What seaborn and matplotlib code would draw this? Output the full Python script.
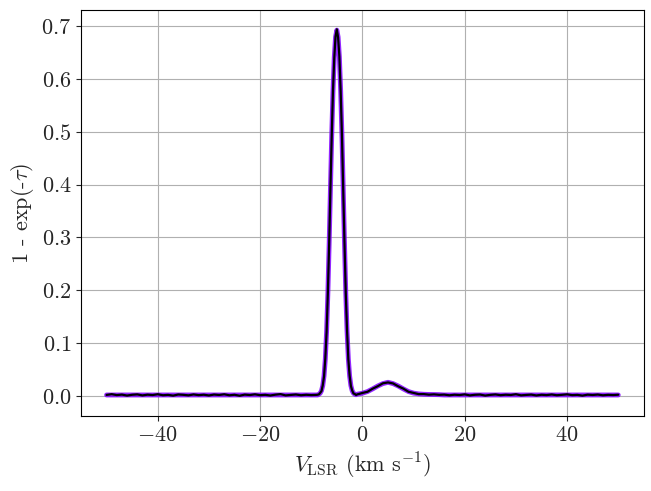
import matplotlib
matplotlib.use("Agg")
import matplotlib.pyplot as plt
import seaborn as sns
import pandas as pd

# velocity grid (km/s)
velocity = [
    -50, -49, -48, -47, -46, -45, -44, -43, -42, -41,
    -40, -39, -38, -37, -36, -35, -34, -33, -32, -31,
    -30, -29, -28, -27, -26, -25, -24, -23, -22, -21,
    -20, -19, -18, -17, -16, -15, -14, -13, -12, -11,
    -10, -9,
    -8.75, -8.5, -8.25, -8.0, -7.75, -7.5, -7.25, -7.0, -6.75, -6.5,
    -6.25, -6.0, -5.75, -5.5, -5.25, -5.0, -4.75, -4.5, -4.25, -4.0,
    -3.75, -3.5, -3.25, -3.0, -2.75, -2.5, -2.25, -2.0, -1.75, -1.5,
    -1.25,
    -1, 0, 1, 2, 3, 4, 5, 6, 7, 8,
    9, 10, 11, 12, 13, 14, 15, 16, 17, 18,
    19, 20, 21, 22, 23, 24, 25, 26, 27, 28,
    29, 30, 31, 32, 33, 34, 35, 36, 37, 38,
    39, 40, 41, 42, 43, 44, 45, 46, 47, 48,
    49, 50,
]

# model prediction (purple)
model = [
    0.002, 0.002, 0.002, 0.002, 0.002, 0.002, 0.002, 0.002, 0.002, 0.002,
    0.002, 0.002, 0.002, 0.002, 0.002, 0.002, 0.002, 0.002, 0.002, 0.002,
    0.002, 0.002, 0.002, 0.002, 0.002, 0.002, 0.002, 0.002, 0.002, 0.002,
    0.002, 0.002, 0.002, 0.002, 0.002, 0.002, 0.002, 0.002, 0.002, 0.002,
    0.002, 0.002,
    0.002, 0.0033, 0.0054, 0.010, 0.0196, 0.038, 0.070, 0.122, 0.195, 0.288,
    0.391, 0.492, 0.577, 0.641, 0.679, 0.692, 0.679, 0.641, 0.577, 0.492,
    0.391, 0.288, 0.195, 0.122, 0.070, 0.038, 0.0196, 0.010, 0.0054, 0.0035,
    0.0025,
    0.0035, 0.0053, 0.0085, 0.0135, 0.019, 0.0235, 0.026, 0.0235, 0.019, 0.0135,
    0.0085, 0.0055, 0.004, 0.0033, 0.003, 0.0028, 0.0026, 0.002, 0.002, 0.002,
    0.002, 0.002, 0.002, 0.002, 0.002, 0.002, 0.002, 0.002, 0.002, 0.002,
    0.002, 0.002, 0.002, 0.002, 0.002, 0.002, 0.002, 0.002, 0.002, 0.002,
    0.002, 0.002, 0.002, 0.002, 0.002, 0.002, 0.002, 0.002, 0.002, 0.002,
    0.002, 0.002,
]

# observed spectrum (black)
observed = [
    0.0021, 0.0035, 0.0018, 0.0027, 0.0009, 0.0024, 0.0031, 0.0012, 0.0026, 0.0019,
    0.0034, 0.0015, 0.0022, 0.0008, 0.0029, 0.0023, 0.0013, 0.0030, 0.0017, 0.0025,
    0.0011, 0.0028, 0.0020, 0.0033, 0.0014, 0.0024, 0.0006, 0.0027, 0.0019, 0.0032,
    0.0016, 0.0023, 0.0010, 0.0026, 0.0036, 0.0012, 0.0021, 0.0029, 0.0015, 0.0024,
    0.0018, 0.0022,
    0.0025, 0.0031, 0.0060, 0.0094, 0.0203, 0.0372, 0.0712, 0.1208, 0.1961, 0.2872,
    0.3925, 0.4908, 0.5782, 0.6398, 0.6803, 0.6935, 0.6779, 0.6422, 0.5758, 0.4931,
    0.3898, 0.2891, 0.1939, 0.1232, 0.0691, 0.0387, 0.0189, 0.0106, 0.0049, 0.0039,
    0.0021,
    0.0031, 0.0058, 0.0081, 0.0139, 0.0186, 0.0241, 0.0257, 0.0238, 0.0184, 0.0140,
    0.0081, 0.0059, 0.0036, 0.0037, 0.0026, 0.0032, 0.0023, 0.0027, 0.0014, 0.0025,
    0.0019, 0.0031, 0.0012, 0.0024, 0.0028, 0.0009, 0.0022, 0.0030, 0.0016, 0.0025,
    0.0020, 0.0034, 0.0013, 0.0021, 0.0027, 0.0011, 0.0024, 0.0018, 0.0029, 0.0015,
    0.0023, 0.0032, 0.0017, 0.0022, 0.0008, 0.0026, 0.0020, 0.0028, 0.0014, 0.0023,
    0.0019, 0.0025,
]

sns.set_theme(style="ticks", rc={
    "axes.grid": True,
    "grid.color": "#b0b0b0",
    "grid.linewidth": 0.8,
    "axes.edgecolor": "black",
    "axes.linewidth": 0.8,
    "xtick.major.size": 3.5,
    "ytick.major.size": 3.5,
    "xtick.major.width": 0.8,
    "ytick.major.width": 0.8,
})
plt.rcParams["font.family"] = "serif"
plt.rcParams["font.serif"] = ["cmr10", "DejaVu Serif"]
plt.rcParams["mathtext.fontset"] = "cm"
plt.rcParams["axes.formatter.use_mathtext"] = True

df = pd.DataFrame({"velocity": velocity, "model": model, "observed": observed})

fig, ax = plt.subplots(figsize=(6.51, 4.91), dpi=100)
sns.lineplot(data=df, x="velocity", y="model", ax=ax, color="#8000ff",
             linewidth=3.5, alpha=0.85)
sns.lineplot(data=df, x="velocity", y="observed", ax=ax, color="black",
             linewidth=1.6)

ax.set_xlabel(r"$V_{\rm LSR}$ (km s$^{-1}$)", fontsize=16)
ax.set_ylabel(r"1 - exp(-$\tau$)", fontsize=16)
ax.tick_params(labelsize=16)
ax.set_xticks([-40, -20, 0, 20, 40])
ax.set_xlim(-55, 55)
ax.set_ylim(-0.0378, 0.730)

plt.subplots_adjust(left=0.1244, right=0.989, top=0.9796, bottom=0.1527)
plt.savefig("out.png", dpi=100)
plt.close()
